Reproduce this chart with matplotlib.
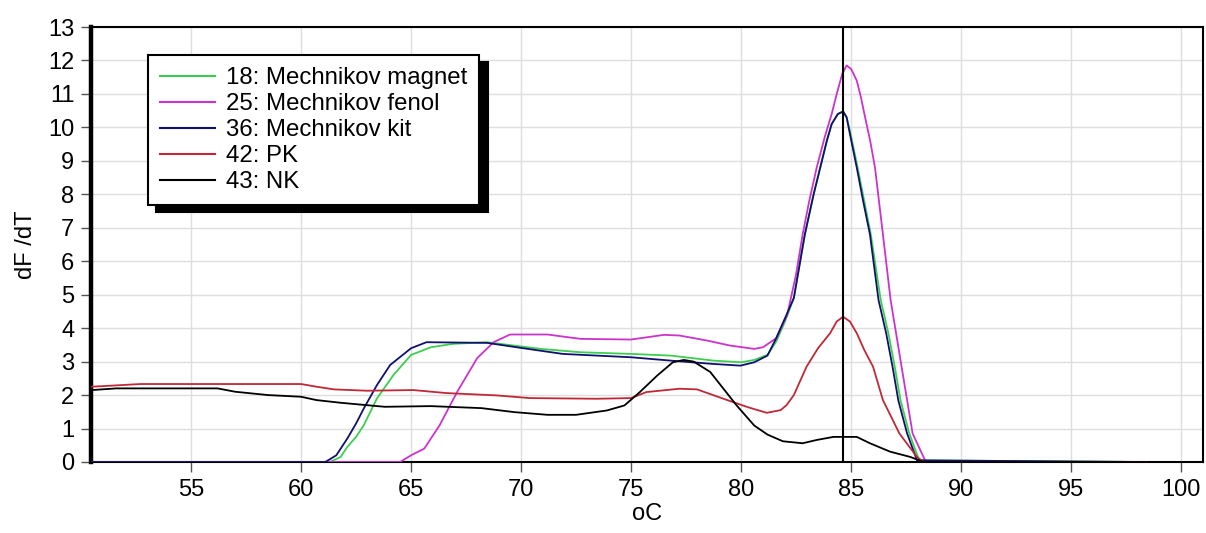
import matplotlib
matplotlib.use("Agg")
import matplotlib.pyplot as plt

# ---- data ----
labels = ["18: Mechnikov magnet", "25: Mechnikov fenol", "36: Mechnikov kit", "42: PK", "43: NK"]
colors = ["#3ccf4f", "#cc33cc", "#101070", "#c02838", "#000000"]

t_magnet = [50.5, 61.3, 61.8, 62.1, 62.5, 62.85, 63.45, 64.2, 65.0, 65.9, 66.9, 68.45, 70.9, 72.7, 75.0,
            76.8, 78.75, 80.0, 80.6, 81.2, 81.6, 82.0, 82.4, 82.9, 83.3, 83.6, 83.9, 84.12, 84.4, 84.64,
            84.8, 84.95, 85.3, 85.6, 85.9, 86.35, 86.7, 87.0, 87.25, 87.65, 88.1, 98.4]
v_magnet = [0, 0, 0.15, 0.45, 0.75, 1.1, 1.9, 2.6, 3.2, 3.43, 3.53, 3.58, 3.38, 3.28, 3.23,
            3.18, 3.03, 2.98, 3.05, 3.2, 3.6, 4.2, 4.9, 6.8, 8.0, 8.8, 9.6, 10.1, 10.4, 10.46,
            10.3, 9.9, 8.8, 7.8, 6.8, 4.84, 3.84, 2.8, 1.84, 0.85, 0.05, 0]

t_fenol = [50.5, 64.5, 65.0, 65.6, 66.3, 67.1, 68.0, 68.75, 69.5, 71.2, 72.7, 75.0, 76.5, 77.2, 78.45,
           79.5, 80.6, 81.0, 81.6, 82.1, 82.5, 82.8, 83.1, 83.44, 83.8, 84.12, 84.35, 84.6, 84.8,
           85.0, 85.26, 85.45, 85.64, 85.87, 86.09, 86.45, 86.8, 87.3, 87.8, 88.4, 98.4]
v_fenol = [0, 0, 0.2, 0.4, 1.1, 2.1, 3.1, 3.58, 3.81, 3.81, 3.68, 3.66, 3.8, 3.78, 3.63,
           3.48, 3.38, 3.43, 3.7, 4.4, 5.6, 6.8, 7.8, 8.8, 9.7, 10.4, 11.0, 11.6, 11.85,
           11.75, 11.4, 10.9, 10.3, 9.6, 8.8, 6.8, 4.84, 2.84, 0.85, 0, 0]

t_kit = [50.5, 61.1, 61.6, 62.1, 62.5, 62.85, 63.45, 64.05, 65.0, 65.7, 68.45, 70.1, 71.9, 75.0, 76.8,
         78.75, 79.97, 80.6, 81.2, 81.6, 82.0, 82.4, 82.9, 83.3, 83.6, 83.9, 84.12, 84.4, 84.64,
         84.8, 84.95, 85.26, 85.55, 85.86, 86.25, 86.6, 86.9, 87.15, 87.55, 88.0, 98.4]
v_kit = [0, 0, 0.2, 0.7, 1.15, 1.6, 2.3, 2.9, 3.4, 3.58, 3.56, 3.4, 3.23, 3.13, 3.03,
         2.93, 2.88, 2.98, 3.18, 3.7, 4.3, 4.9, 6.8, 8.0, 8.8, 9.6, 10.1, 10.4, 10.48,
         10.3, 9.8, 8.8, 7.8, 6.8, 4.84, 3.84, 2.8, 1.84, 0.85, 0.05, 0]

t_pk = [50.5, 52.7, 60.0, 60.7, 61.5, 63.0, 65.1, 66.6, 68.9, 70.4, 73.45, 75.0, 75.7, 77.2, 78.0,
        79.2, 80.3, 81.17, 81.8, 82.07, 82.4, 82.98, 83.5, 84.05, 84.35, 84.64, 84.95, 85.26, 85.6,
        86.0, 86.45, 87.2, 88.0, 88.3, 98.4]
v_pk = [2.25, 2.33, 2.33, 2.25, 2.17, 2.13, 2.15, 2.06, 1.99, 1.91, 1.89, 1.91, 2.09, 2.19, 2.17,
        1.89, 1.64, 1.47, 1.55, 1.7, 2.0, 2.85, 3.4, 3.85, 4.2, 4.34, 4.2, 3.85, 3.35,
        2.85, 1.85, 0.85, 0.15, 0, 0]

t_nk = [50.5, 51.6, 56.2, 57.0, 58.5, 60.0, 60.7, 61.8, 63.8, 65.9, 68.2, 69.7, 71.2, 72.5, 73.9,
        74.7, 75.4, 76.2, 76.9, 77.4, 77.85, 78.6, 79.2, 79.8, 80.6, 81.2, 81.9, 82.8, 83.45, 84.2,
        85.26, 85.86, 86.77, 87.7, 88.3, 98.4]
v_nk = [2.15, 2.2, 2.2, 2.1, 2.0, 1.95, 1.85, 1.77, 1.65, 1.67, 1.61, 1.49, 1.41, 1.41, 1.54,
        1.69, 2.09, 2.59, 2.98, 3.05, 3.0, 2.69, 2.19, 1.69, 1.09, 0.82, 0.62, 0.56, 0.66, 0.75,
        0.75, 0.56, 0.31, 0.15, 0, 0]

cursor_t = 84.65
x_ticks = [55, 60, 65, 70, 75, 80, 85, 90, 95, 100]
y_ticks = list(range(0, 14))

# ---- plot ----
plt.rcParams['font.family'] = ['Liberation Sans', 'DejaVu Sans']
fs = 17
lfs = 17.3

fig = plt.figure(figsize=(12.06, 5.33), dpi=100)
ax = fig.add_axes([91 / 1206, 1 - 462 / 533, (1203 - 91) / 1206, (462 - 27) / 533])

series = [(t_magnet, v_magnet), (t_fenol, v_fenol), (t_kit, v_kit), (t_pk, v_pk), (t_nk, v_nk)]
for (t, v), c, lab in zip(series, colors, labels):
    ax.plot(t, v, color=c, lw=1.3, label=lab, zorder=3)

ax.axvline(cursor_t, color="black", lw=1.5, zorder=4)

ax.set_xlim(50.45, 101.0)
ax.set_ylim(0, 13)
ax.set_xticks(x_ticks)
ax.set_yticks(y_ticks)
ax.grid(True, color="#dedede", lw=1)
ax.set_axisbelow(True)

ax.tick_params(axis='both', labelsize=fs, length=7, width=1, direction='out', color='#555555')
ax.tick_params(axis='x', pad=5)
ax.tick_params(axis='y', pad=5)

for s in ['top', 'right', 'bottom']:
    ax.spines[s].set_linewidth(1.5)
ax.spines['left'].set_linewidth(3.2)

ax.set_xlabel("oC", fontsize=fs, labelpad=2)
ax.set_ylabel("dF /dT", fontsize=fs, labelpad=8)

leg = ax.legend(loc='upper left', bbox_to_anchor=((148 - 91) / 1112, (462 - 55) / 435),
                borderaxespad=0, fontsize=lfs, frameon=True, fancybox=False,
                shadow={'color': 'black', 'alpha': 1.0, 'ox': 6, 'oy': -5},
                handlelength=2.3, handletextpad=0.45, borderpad=0.5, labelspacing=0.17)
leg.get_frame().set_edgecolor('black')
leg.get_frame().set_linewidth(1.5)
leg.get_frame().set_alpha(1.0)
for line in leg.get_lines():
    line.set_linewidth(1.5)

fig.savefig("out.png", dpi=100)
